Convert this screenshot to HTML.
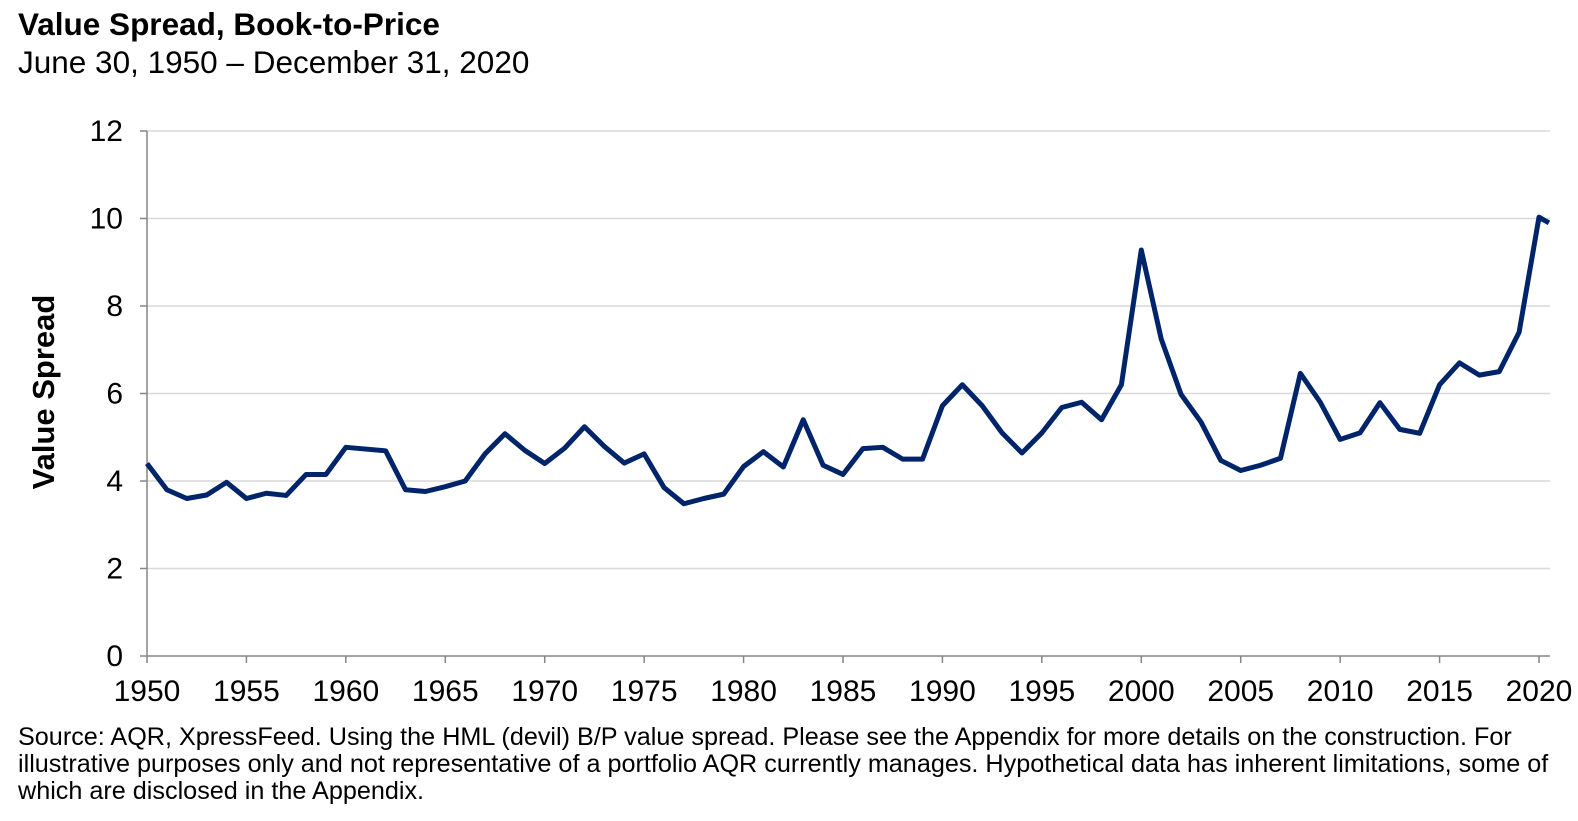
<!DOCTYPE html>
<html><head><meta charset="utf-8"><style>
body{margin:0;width:1578px;height:821px;background:#fff;font-family:"Liberation Sans",Arial,sans-serif;overflow:hidden;position:relative}
.t{position:absolute;color:#000;white-space:nowrap}
</style></head><body>
<div class="t" style="left:18px;top:6px;font-size:31.5px;font-weight:bold">Value Spread, Book-to-Price</div>
<div class="t" style="left:18px;top:44px;font-size:31.5px">June 30, 1950 – December 31, 2020</div>
<svg id="c" width="1578" height="821" style="position:absolute;left:0;top:0"></svg>
<div class="t" style="left:18px;top:724px;font-size:25.2px;line-height:27px;white-space:normal;width:1560px">Source: AQR, XpressFeed. Using the HML (devil) B/P value spread. Please see the Appendix for more details on the construction. For illustrative purposes only and not representative of a portfolio AQR currently manages. Hypothetical data has inherent limitations, some of which are disclosed in the Appendix.</div>
<script>
const years=[1950,1951,1952,1953,1954,1955,1956,1957,1958,1959,1960,1961,1962,1963,1964,1965,1966,1967,1968,1969,1970,1971,1972,1973,1974,1975,1976,1977,1978,1979,1980,1981,1982,1983,1984,1985,1986,1987,1988,1989,1990,1991,1992,1993,1994,1995,1996,1997,1998,1999,2000,2001,2002,2003,2004,2005,2006,2007,2008,2009,2010,2011,2012,2013,2014,2015,2016,2017,2018,2019,2020,2020.5];
const values=[4.4,3.8,3.6,3.68,3.97,3.6,3.72,3.67,4.15,4.15,4.77,4.73,4.69,3.8,3.76,3.87,4.0,4.62,5.08,4.7,4.4,4.75,5.24,4.79,4.41,4.62,3.85,3.48,3.6,3.7,4.33,4.67,4.32,5.4,4.36,4.15,4.74,4.77,4.5,4.5,5.72,6.2,5.72,5.1,4.64,5.1,5.68,5.8,5.4,6.2,9.28,7.25,5.98,5.35,4.47,4.24,4.36,4.52,6.46,5.8,4.95,5.1,5.79,5.18,5.09,6.2,6.7,6.42,6.5,7.4,10.03,9.9];
const yTicks=[0,2,4,6,8,10,12];
const xTicks=[1950,1955,1960,1965,1970,1975,1980,1985,1990,1995,2000,2005,2010,2015,2020];
const NS="http://www.w3.org/2000/svg",svg=document.getElementById('c');
const X0=147,X1=1539,Y0=656,Y1=131;
const x=v=>X0+(v-1950)*(X1-X0)/70, y=v=>Y0-(v)*(Y0-Y1)/12;
function mk(t,a){const e=document.createElementNS(NS,t);for(const k in a)e.setAttribute(k,a[k]);svg.appendChild(e);return e;}
yTicks.forEach(v=>{
 if(v>0){const g=mk('line',{x1:X0,x2:1550,y1:y(v),y2:y(v),stroke:'#d9d9d9','stroke-width':1.5});
 
 }
 const tk=mk('line',{x1:X0-7,x2:X0,y1:y(v),y2:y(v),stroke:'#868686','stroke-width':1.5});
 
 
 const t=mk('text',{x:X0-24,y:y(v)+10,'text-anchor':'end','font-size':30,fill:'#000'});t.textContent=v;
 
 
});
const ax=mk('line',{x1:X0,x2:X0,y1:Y1,y2:Y0,stroke:'#868686','stroke-width':1.5});


const bx=mk('line',{x1:X0,x2:1550,y1:Y0,y2:Y0,stroke:'#868686','stroke-width':1.5});


xTicks.forEach(v=>{
 const tk=mk('line',{x1:x(v),x2:x(v),y1:Y0,y2:Y0+7,stroke:'#868686','stroke-width':1.5});
 
 
 const t=mk('text',{x:x(v),y:Y0+45,'text-anchor':'middle','font-size':30,fill:'#000'});t.textContent=v;
 
 
});
const yl=mk('text',{x:0,y:0,transform:`translate(54,392) rotate(-90)`,'text-anchor':'middle','font-size':31,'font-weight':'bold',fill:'#000'});yl.textContent='Value Spread';


const p=mk('polyline',{points:years.map((v,i)=>x(v)+','+y(values[i])).join(' '),fill:'none',stroke:'#002469','stroke-width':5,'stroke-linejoin':'round'});


</script>
</body></html>
